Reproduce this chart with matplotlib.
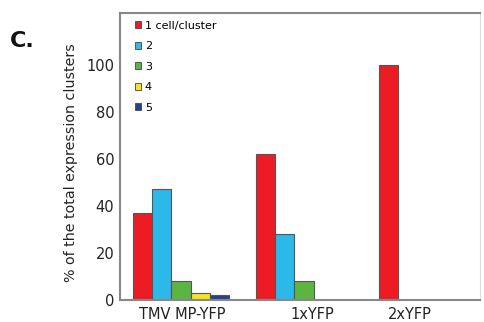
import numpy as np
import matplotlib.pyplot as plt
from matplotlib.patches import Patch

groups = ["TMV MP-YFP", "1xYFP", "2xYFP"]
series = ["1 cell/cluster", "2", "3", "4", "5"]
values = [
    [37, 62, 100],  # 1 cell/cluster
    [47, 28, 0],    # 2
    [8, 8, 0],      # 3
    [3, 0, 0],      # 4
    [2, 0, 0],      # 5
]
colors = ["#ED1C24", "#2DB8EA", "#5DB541", "#F2E51B", "#23409A"]

fig = plt.figure(figsize=(4.85, 3.22), dpi=100)
ax = fig.add_axes([0.247, 0.068, 0.742, 0.892])

w = 0.157
x = np.arange(len(groups))
for k, (name, vals) in enumerate(zip(series, values)):
    v = np.array(vals, dtype=float)
    m = v > 0
    ax.bar(x[m] + k * w, v[m], width=w, align="edge", color=colors[k],
           edgecolor="#555555", linewidth=0.8)

ax.set_xlim(-0.106, 2.82)
ax.set_ylim(0, 122)
ax.set_yticks([0, 20, 40, 60, 80, 100])
ax.set_xticks([0.40, 1.46, 2.25])
ax.set_xticklabels(groups)
ax.tick_params(length=0, labelsize=10.5, colors="#222222")
ax.tick_params(axis="y", pad=4)
ax.tick_params(axis="x", pad=5)
for s in ax.spines.values():
    s.set_color("#888888")
    s.set_linewidth(1.5)
ax.spines["right"].set_color("#dddddd")
ax.spines["right"].set_linewidth(0.8)

ax.set_ylabel("% of the total expression clusters", fontsize=10.3, color="#222222")
ax.yaxis.set_label_coords(-0.115, 0.48)

handles = [Patch(facecolor=c, edgecolor="#444444", linewidth=0.6) for c in colors]
ax.legend(handles, series, loc="upper left", bbox_to_anchor=(0.02, 1.0), frameon=False,
          fontsize=8, handlelength=0.6, handleheight=0.6, handletextpad=0.3,
          labelspacing=0.95, borderaxespad=0.3)

fig.text(0.02, 0.855, "C.", fontsize=16, fontweight="bold", color="#111111", va="baseline")

fig.savefig("out.png", dpi=100)
